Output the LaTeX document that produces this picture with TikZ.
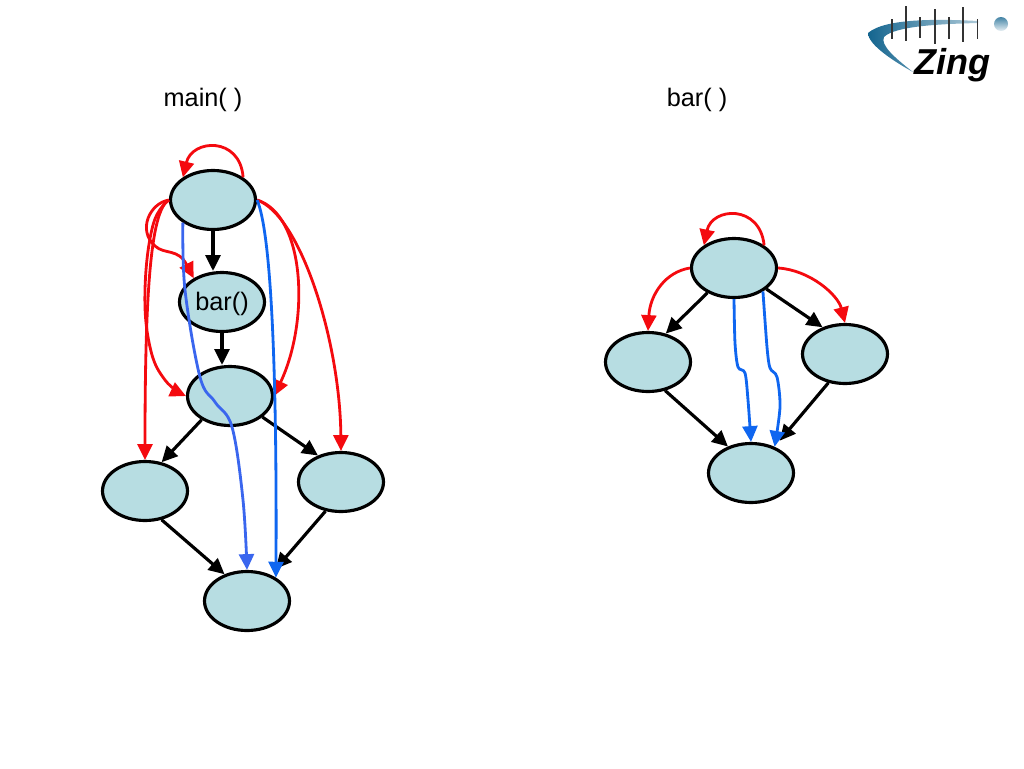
\documentclass[tikz,border=0pt]{standalone}
\usepackage{fontspec}
\setmainfont{Liberation Sans}
\usetikzlibrary{arrows.meta,shapes.geometric}
\definecolor{blockfill}{HTML}{B7DDE2}
\definecolor{callred}{HTML}{F40A0F}
\definecolor{flowblue}{HTML}{0F66F0}
\definecolor{flowlight}{HTML}{3A66EE}
\definecolor{swoosh}{HTML}{14658F}
\tikzset{
  block/.style={ellipse,draw=black,fill=blockfill,line width=1.8pt,minimum width=1.7cm,minimum height=1.18cm,inner sep=0pt,font=\fontsize{14.4}{16}\selectfont},
  title/.style={font=\fontsize{14.4}{16}\selectfont},
  ctrl/.style={-{Triangle[length=9pt,width=8.5pt]},line width=1.8pt,black},
  call/.style={-{Triangle[length=9pt,width=8.5pt]},line width=1.6pt,callred},
  flow/.style={-{Triangle[length=9pt,width=8.5pt]},line width=1.6pt,flowblue},
}
\begin{document}
\begin{tikzpicture}[x=0.02cm,y=-0.02cm]
    \useasboundingbox (0,0) rectangle (1024,768);

    % logo
    \shade[left color=swoosh,right color=swoosh!35] (978,21) .. controls (940,19) and (885,18) .. (868,33)
        .. controls (868,45) and (895,62) .. (913,72)
        .. controls (895,58) and (880,45) .. (884,37)
        .. controls (895,26) and (940,24) .. (978,23) -- cycle;
    \foreach \x/\ya/\yb/\w in {892/19/39/0.7,906/6/41/1.2,920/17/38/0.7,935/9/44/1.2,949/17/39/0.7,963/7/42/1.2,977/19/39/0.5}
        \draw[line width=\w pt,black!80] (\x,\ya) -- (\x,\yb);
    \shade[top color=swoosh!80,bottom color=swoosh!10] (1001,24) circle (7);
    \node[font=\fontsize{20.5}{22}\selectfont\bfseries\itshape] (logo) at (952,65) {Zing};

    % titles
    \node[title] (mainname) at (203,100) {main( )};
    \node[title] (barname) at (697,100) {bar( )};

    % main( ) blocks
    \node[block] (m0) at (213,200) {};
    \node[block] (m1) at (222,302) {\raisebox{-5pt}[0pt][0pt]{bar()}};
    \node[block] (m2) at (230,396) {};
    \node[block] (m3) at (145,491) {};
    \node[block] (m4) at (341,482) {};
    \node[block] (m5) at (247,601) {};

    % main( ) control edges
    \draw[ctrl] (m0.south) -- (m0.south |- m1.north);
    \draw[ctrl] (m1.south) -- (m1.south |- m2.north);
    \draw[ctrl] (m2.220) -- (m3.60);
    \draw[ctrl] (m2.327) -- (m4.131);
    \draw[ctrl] (m3.300) -- (m5.130);
    \draw[ctrl,shorten >=4.5pt] (m4.242) -- (m5.48);

    % main( ) red calls
    \draw[call] (m0.37) .. controls (240,136) and (192,139) .. (m0.143);
    \draw[call] (m0.west) .. controls (150,203) and (137,230) .. (155,246) .. controls (165,255) and (178,248) .. (m1.140);
    \draw[call] plot[smooth,tension=0.7] coordinates {(m0.west) (153,225) (145,290) (150,347) (165,380) (m2.west)};
    \draw[call] (m0.west) .. controls (150,210) and (145,300) .. (m3.north);
    \draw[call] (m0.east) .. controls (305,215) and (310,320) .. (m2.east);
    \draw[call] (m0.east) .. controls (300,215) and (340,340) .. (m4.north);

    % main( ) blue flows
    \draw[flow,flowlight] plot[smooth,tension=0.6] coordinates {(m0.217) (185,290) (200,377) (215,402) (232,427) (243,500) (m5.north)};
    \draw[flow] (m0.east) .. controls (270,230) and (277,350) .. (m5.39);

    % bar( ) blocks
    \node[block] (b0) at (734,268) {};
    \node[block] (b1) at (648,362) {};
    \node[block] (b2) at (845,354) {};
    \node[block] (b3) at (751,473) {};

    % bar( ) control edges
    \draw[ctrl] (b0.223) -- (b1.58);
    \draw[ctrl] (b0.327) -- (b2.130);
    \draw[ctrl] (b1.301) -- (b3.131);
    \draw[ctrl,shorten >=4.5pt] (b2.240) -- (b3.48);

    % bar( ) red calls
    \draw[call] (b0.37) .. controls (760,204) and (712,207) .. (b0.143);
    \draw[call] (b0.west) .. controls (665,272) and (650,295) .. (b1.north);
    \draw[call] (b0.east) .. controls (810,270) and (838,295) .. (b2.north);

    % bar( ) blue flows
    \draw[flow] plot[smooth,tension=0.5] coordinates {(b0.south) (735,343) (738,367) (745,373) (748,400) (b3.north)};
    \draw[flow] plot[smooth,tension=0.5] coordinates {(b0.321) (767,347) (770,368) (777,377) (780,407) (b3.48)};
\end{tikzpicture}
\end{document}
